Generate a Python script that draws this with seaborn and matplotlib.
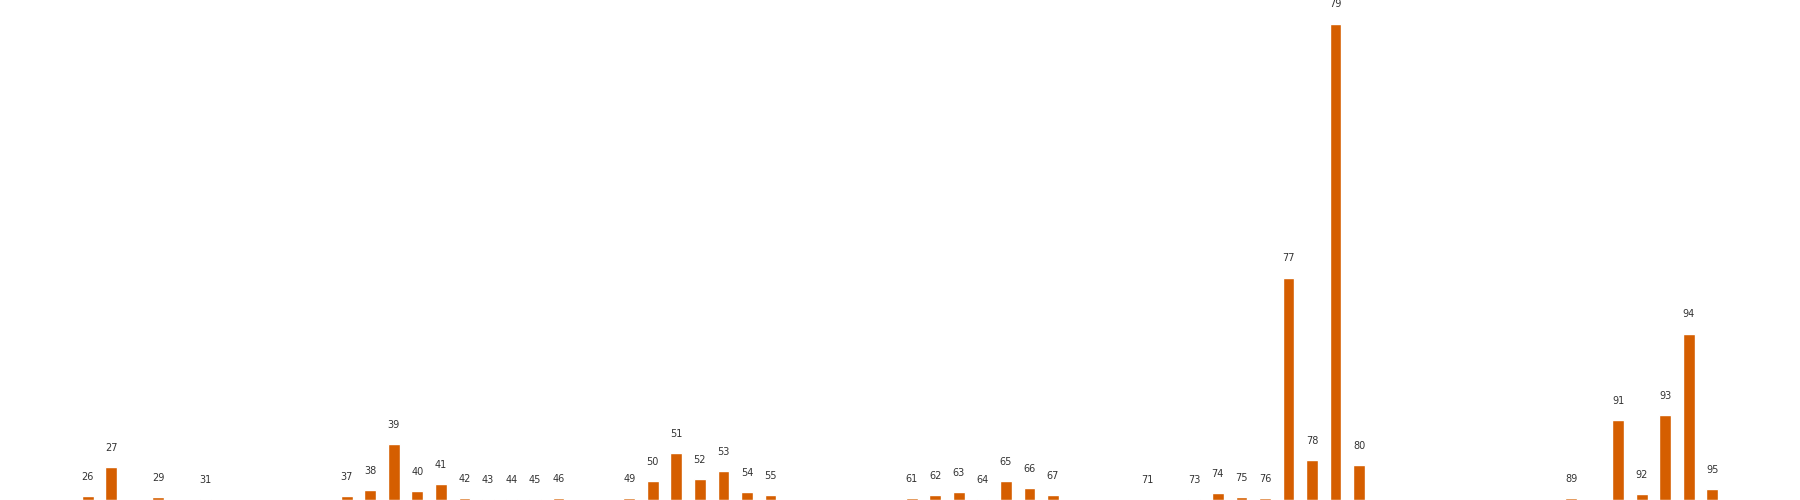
import matplotlib
matplotlib.use("Agg")
import matplotlib.pyplot as plt
import seaborn as sns
import pandas as pd

# categorias (eixo x) e valores das barras
categorias = [26, 27, 29, 31, 37, 38, 39, 40, 41, 42, 43, 44, 45, 46,
              49, 50, 51, 52, 53, 54, 55, 61, 62, 63, 64, 65, 66, 67,
              71, 73, 74, 75, 76, 77, 78, 79, 80, 89, 91, 92, 93, 94, 95]
valores = [4, 33, 3, 1, 4, 10, 56, 9, 16, 2, 1, 1, 1, 2,
           2, 19, 47, 21, 29, 8, 5, 2, 5, 8, 1, 19, 12, 5,
           0.3, 1, 7, 3, 2, 222, 40, 476, 35, 2, 80, 6, 85, 166, 11]

df = pd.DataFrame({"categoria": categorias, "valor": valores})

sns.set_theme(style="white")

fig = plt.figure(figsize=(18, 5), dpi=100)
ax = fig.add_axes([0, 0, 1, 1])

sns.barplot(data=df, x="categoria", y="valor", native_scale=True,
            width=0.5, color="#D55E00", saturation=1, ax=ax)

# rótulo de cada barra = a própria categoria
for cat, val in zip(df["categoria"], df["valor"]):
    ax.annotate(str(cat), (cat, val), xytext=(0, 14), textcoords="offset points",
                ha="center", va="center", fontsize=7, color="#333333")

lo, hi = min(categorias) - 0.25, max(categorias) + 0.25
pad = 0.05 * (hi - lo)
ax.set_xlim(lo - pad, hi + pad)
ax.set_ylim(0, max(valores) * 1.05)
ax.axis("off")

fig.savefig("out.png", dpi=100)
